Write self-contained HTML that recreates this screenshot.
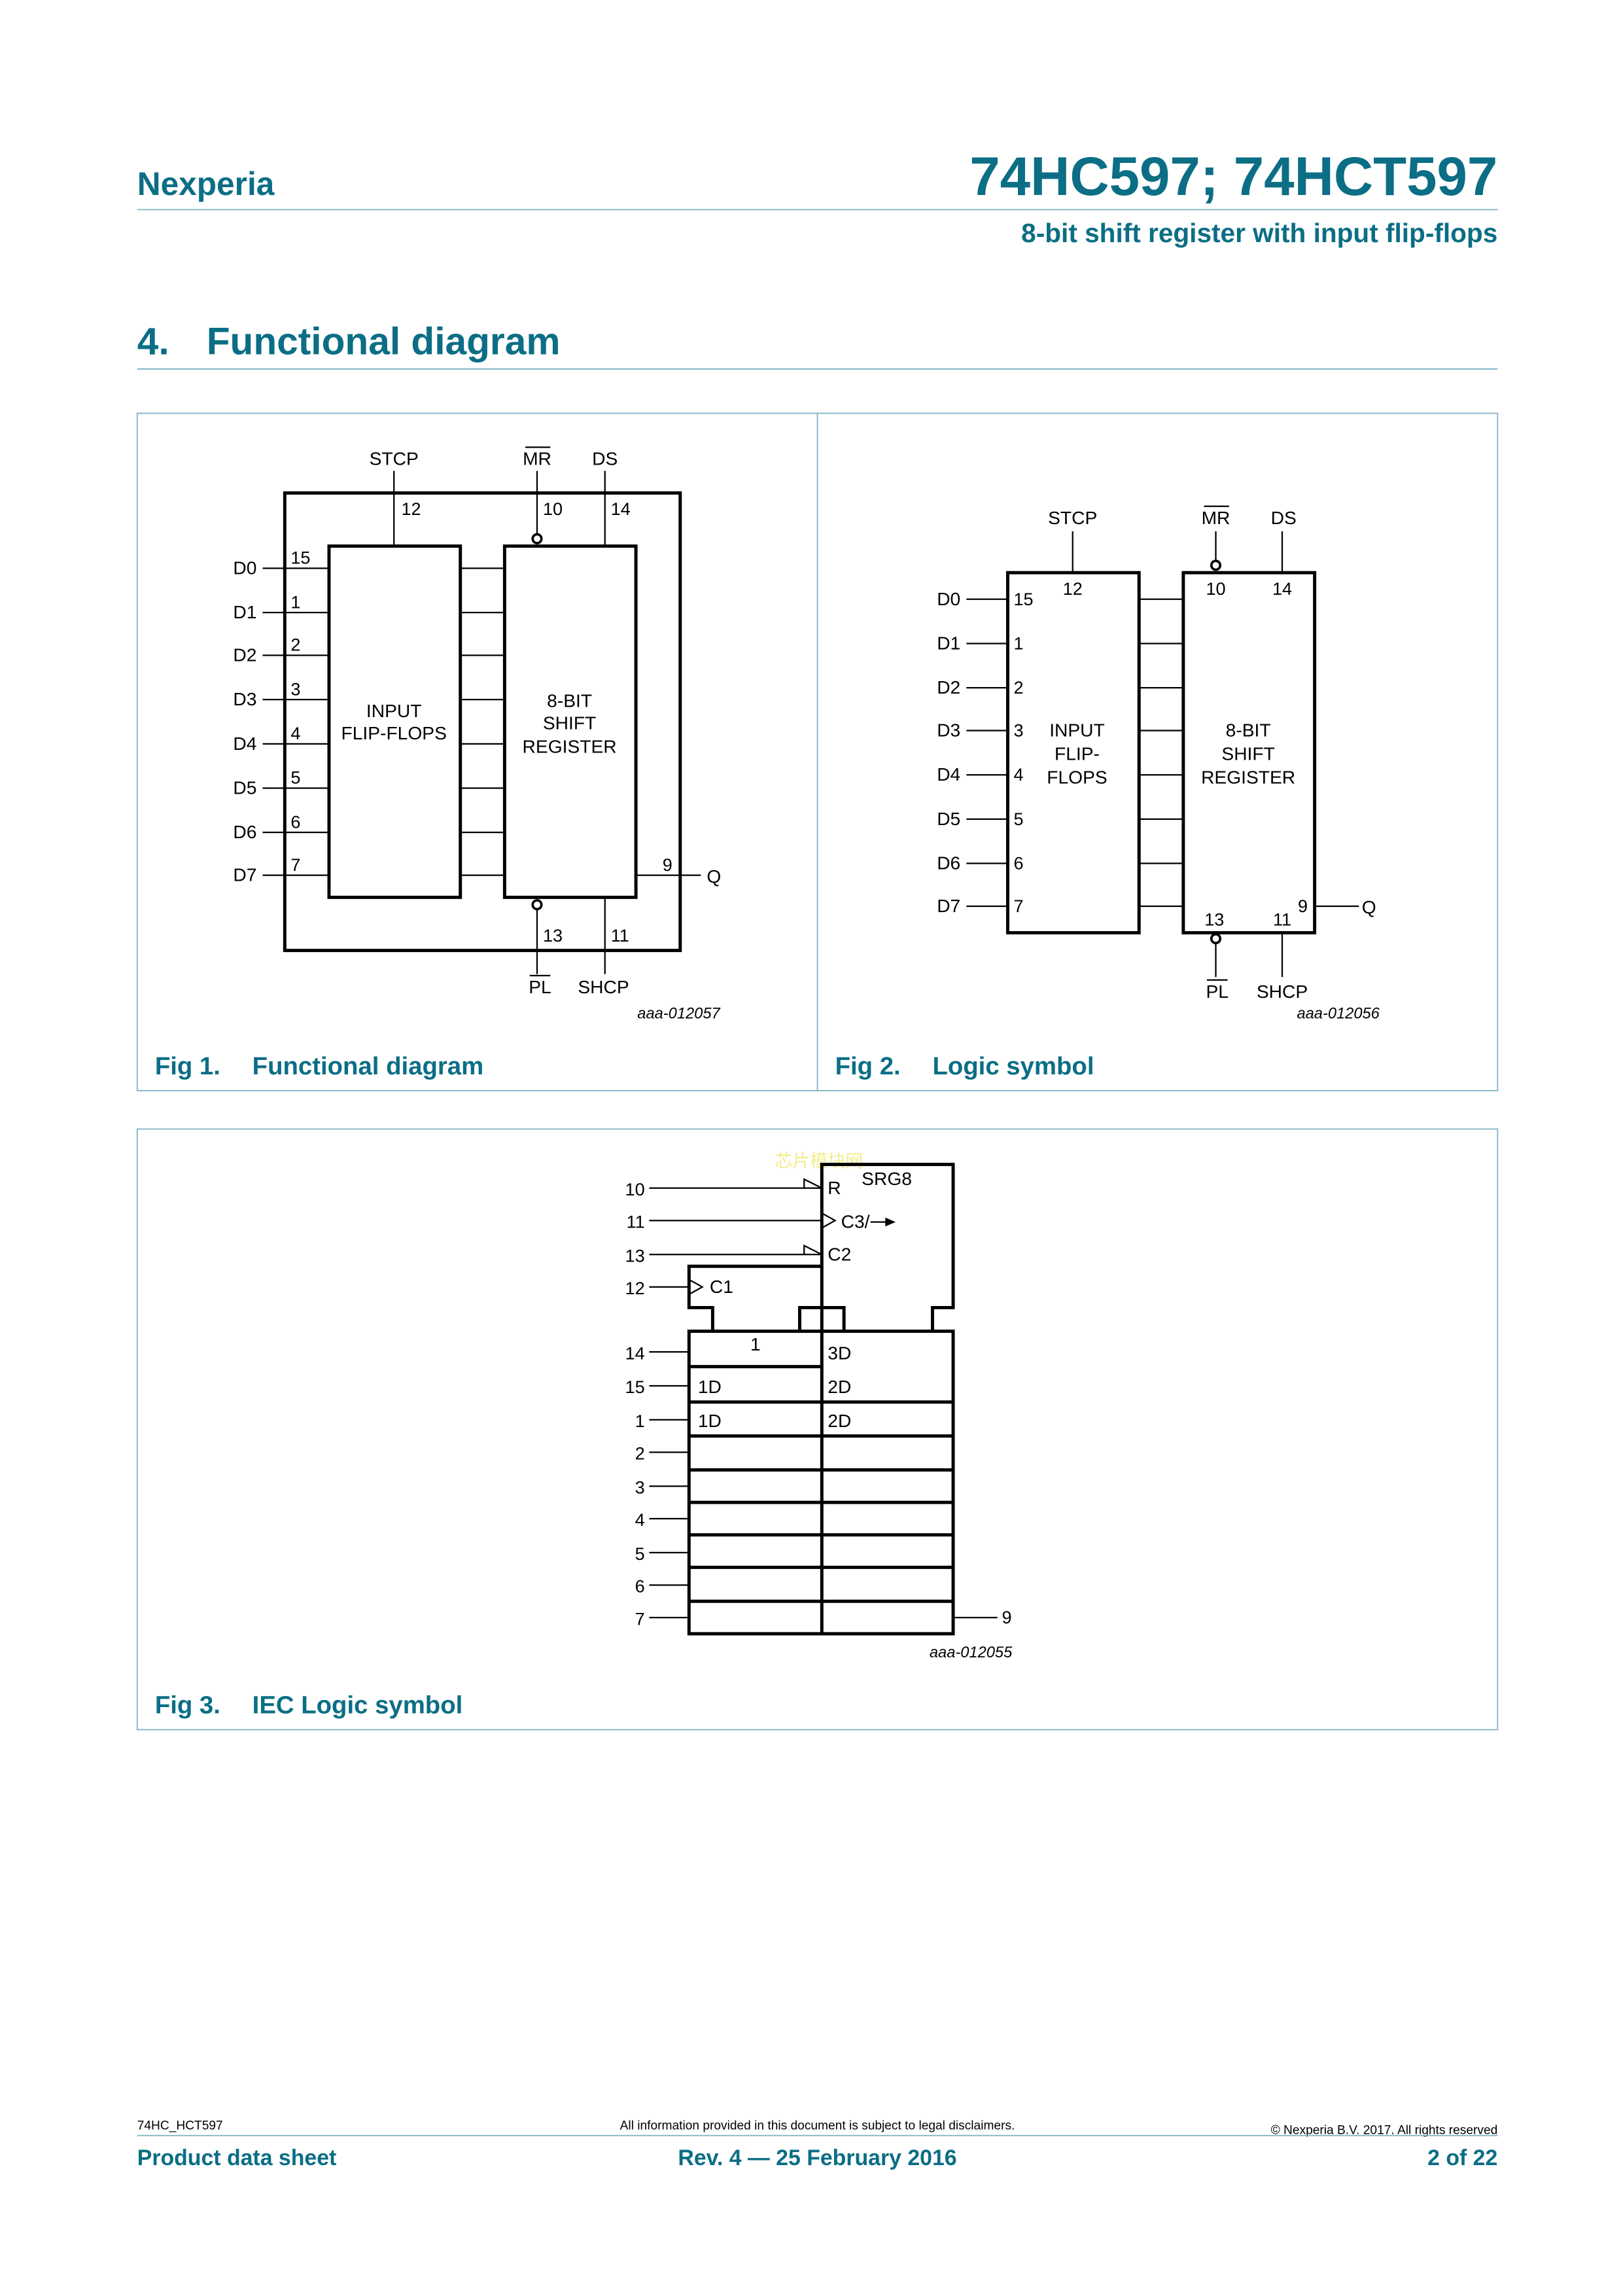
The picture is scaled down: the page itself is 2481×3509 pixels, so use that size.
<!DOCTYPE html>
<html><head><meta charset="utf-8"><style>
html,body{margin:0;padding:0;background:#fff}
svg{display:block}
text{font-family:"Liberation Sans",Arial,sans-serif}
.t{fill:#0b6e85;font-weight:bold}
.d{font-size:12.5px;fill:#000}
.n{font-size:12px;fill:#000}
.k{stroke:#000;stroke-width:2.2;fill:none}
.l{stroke:#000;stroke-width:1;fill:none}
.g{stroke:#7fb3c4;stroke-width:0.8;fill:none}
</style></head><body>
<svg width="2481" height="3509" viewBox="0 0 1100 1555.7" xmlns="http://www.w3.org/2000/svg">
<!-- header -->
<text x="93" y="132" class="t" font-size="22">Nexperia</text>
<text x="1015" y="132" class="t" font-size="37" text-anchor="end">74HC597; 74HCT597</text>
<line x1="93" y1="142" x2="1015" y2="142" class="g"/>
<text x="1015" y="164" class="t" font-size="18" text-anchor="end">8-bit shift register with input flip-flops</text>
<text x="93" y="240" class="t" font-size="26">4.</text>
<text x="140" y="240" class="t" font-size="26">Functional diagram</text>
<line x1="93" y1="250" x2="1015" y2="250" class="g"/>

<!-- figure boxes -->
<rect x="93" y="280" width="922" height="459" class="g"/>
<line x1="554" y1="280" x2="554" y2="739" class="g"/>
<rect x="93" y="765" width="922" height="407" class="g"/>
<text x="105" y="728" class="t" font-size="17">Fig 1.</text>
<text x="171" y="728" class="t" font-size="17">Functional diagram</text>
<text x="566" y="728" class="t" font-size="17">Fig 2.</text>
<text x="632" y="728" class="t" font-size="17">Logic symbol</text>
<text x="105" y="1161" class="t" font-size="17">Fig 3.</text>
<text x="171" y="1161" class="t" font-size="17">IEC Logic symbol</text>

<!-- FIG 1 -->
<rect x="193" y="334" width="268" height="310" class="k"/>
<rect x="223" y="370" width="89" height="238" class="k"/>
<rect x="342" y="370" width="89" height="238" class="k"/>
<g class="l">
<line x1="178" y1="385" x2="223" y2="385"/><line x1="178" y1="415" x2="223" y2="415"/>
<line x1="178" y1="444" x2="223" y2="444"/><line x1="178" y1="474" x2="223" y2="474"/>
<line x1="178" y1="504" x2="223" y2="504"/><line x1="178" y1="534" x2="223" y2="534"/>
<line x1="178" y1="564" x2="223" y2="564"/><line x1="178" y1="593" x2="223" y2="593"/>
<line x1="312" y1="385" x2="342" y2="385"/><line x1="312" y1="415" x2="342" y2="415"/>
<line x1="312" y1="444" x2="342" y2="444"/><line x1="312" y1="474" x2="342" y2="474"/>
<line x1="312" y1="504" x2="342" y2="504"/><line x1="312" y1="534" x2="342" y2="534"/>
<line x1="312" y1="564" x2="342" y2="564"/><line x1="312" y1="593" x2="342" y2="593"/>
<line x1="267" y1="319" x2="267" y2="370"/>
<line x1="364" y1="319" x2="364" y2="362"/>
<line x1="410" y1="319" x2="410" y2="370"/>
<line x1="364" y1="616" x2="364" y2="660"/>
<line x1="410" y1="608" x2="410" y2="660"/>
<line x1="431" y1="593" x2="475" y2="593"/>
</g>
<circle cx="364" cy="365" r="3" fill="#fff" stroke="#000" stroke-width="1.6"/>
<circle cx="364" cy="613" r="3" fill="#fff" stroke="#000" stroke-width="1.6"/>
<g class="d">
<text x="158" y="389">D0</text><text x="158" y="419">D1</text><text x="158" y="448">D2</text><text x="158" y="478">D3</text>
<text x="158" y="508">D4</text><text x="158" y="538">D5</text><text x="158" y="568">D6</text><text x="158" y="597">D7</text>
<text x="267" y="315" text-anchor="middle">STCP</text>
<text x="364" y="315" text-anchor="middle">MR</text>
<text x="410" y="315" text-anchor="middle">DS</text>
<text x="366" y="673" text-anchor="middle">PL</text>
<text x="409" y="673" text-anchor="middle">SHCP</text>
<text x="479" y="598">Q</text>
<text x="267" y="486" text-anchor="middle">INPUT</text>
<text x="267" y="501" text-anchor="middle">FLIP-FLOPS</text>
<text x="386" y="479" text-anchor="middle">8-BIT</text>
<text x="386" y="494" text-anchor="middle">SHIFT</text>
<text x="386" y="510" text-anchor="middle">REGISTER</text>
</g>
<line x1="356" y1="303" x2="373" y2="303" class="l"/>
<line x1="359" y1="661" x2="373" y2="661" class="l"/>
<g class="n">
<text x="197" y="382">15</text><text x="197" y="412">1</text><text x="197" y="441">2</text><text x="197" y="471">3</text>
<text x="197" y="501">4</text><text x="197" y="531">5</text><text x="197" y="561">6</text><text x="197" y="590">7</text>
<text x="272" y="349">12</text><text x="368" y="349">10</text><text x="414" y="349">14</text>
<text x="368" y="638">13</text><text x="414" y="638">11</text><text x="449" y="590">9</text>
</g>
<text x="488" y="690" font-size="10.5" font-style="italic" text-anchor="end">aaa-012057</text>

<!-- FIG 2 -->
<rect x="683" y="388" width="89" height="244" class="k"/>
<rect x="802" y="388" width="89" height="244" class="k"/>
<g class="l">
<line x1="655" y1="406" x2="683" y2="406"/><line x1="655" y1="436" x2="683" y2="436"/>
<line x1="655" y1="466" x2="683" y2="466"/><line x1="655" y1="495" x2="683" y2="495"/>
<line x1="655" y1="525" x2="683" y2="525"/><line x1="655" y1="555" x2="683" y2="555"/>
<line x1="655" y1="585" x2="683" y2="585"/><line x1="655" y1="614" x2="683" y2="614"/>
<line x1="772" y1="406" x2="802" y2="406"/><line x1="772" y1="436" x2="802" y2="436"/>
<line x1="772" y1="466" x2="802" y2="466"/><line x1="772" y1="495" x2="802" y2="495"/>
<line x1="772" y1="525" x2="802" y2="525"/><line x1="772" y1="555" x2="802" y2="555"/>
<line x1="772" y1="585" x2="802" y2="585"/><line x1="772" y1="614" x2="802" y2="614"/>
<line x1="727" y1="360" x2="727" y2="388"/>
<line x1="824" y1="360" x2="824" y2="380"/>
<line x1="869" y1="360" x2="869" y2="388"/>
<line x1="824" y1="639" x2="824" y2="662"/>
<line x1="869" y1="632" x2="869" y2="662"/>
<line x1="891" y1="614" x2="921" y2="614"/>
</g>
<circle cx="824" cy="383" r="3" fill="#fff" stroke="#000" stroke-width="1.6"/>
<circle cx="824" cy="636" r="3" fill="#fff" stroke="#000" stroke-width="1.6"/>
<g class="d">
<text x="635" y="410">D0</text><text x="635" y="440">D1</text><text x="635" y="470">D2</text><text x="635" y="499">D3</text>
<text x="635" y="529">D4</text><text x="635" y="559">D5</text><text x="635" y="589">D6</text><text x="635" y="618">D7</text>
<text x="727" y="355" text-anchor="middle">STCP</text>
<text x="824" y="355" text-anchor="middle">MR</text>
<text x="870" y="355" text-anchor="middle">DS</text>
<text x="825" y="676" text-anchor="middle">PL</text>
<text x="869" y="676" text-anchor="middle">SHCP</text>
<text x="923" y="619">Q</text>
<text x="730" y="499" text-anchor="middle">INPUT</text>
<text x="730" y="515" text-anchor="middle">FLIP-</text>
<text x="730" y="531" text-anchor="middle">FLOPS</text>
<text x="846" y="499" text-anchor="middle">8-BIT</text>
<text x="846" y="515" text-anchor="middle">SHIFT</text>
<text x="846" y="531" text-anchor="middle">REGISTER</text>
</g>
<line x1="816" y1="343" x2="833" y2="343" class="l"/>
<line x1="818" y1="664" x2="832" y2="664" class="l"/>
<g class="n">
<text x="687" y="410">15</text><text x="687" y="440">1</text><text x="687" y="470">2</text><text x="687" y="499">3</text>
<text x="687" y="529">4</text><text x="687" y="559">5</text><text x="687" y="589">6</text><text x="687" y="618">7</text>
<text x="727" y="403" text-anchor="middle">12</text><text x="824" y="403" text-anchor="middle">10</text><text x="869" y="403" text-anchor="middle">14</text>
<text x="823" y="627" text-anchor="middle">13</text><text x="869" y="627" text-anchor="middle">11</text><text x="883" y="618" text-anchor="middle">9</text>
</g>
<text x="935" y="690" font-size="10.5" font-style="italic" text-anchor="end">aaa-012056</text>

<!-- FIG 3 -->
<text x="555" y="791" font-size="12" fill="#f3ec8a" text-anchor="middle" font-family="'Noto Sans CJK SC',sans-serif">芯片模块网</text>
<path class="k" d="M557 902 V789 H646 V886 H632 V902"/>
<path class="k" d="M557 858 H467 V886 H483 V902"/>
<path class="k" d="M542 902 V886 H572 V902"/>
<path class="k" d="M467 902 H646 V1107 H467 Z M557 902 V1107"/>
<path class="k" d="M467 926 H557 M467 950 H646 M467 973 H646 M467 996 H646 M467 1018 H646 M467 1040 H646 M467 1062 H646 M467 1085 H646"/>
<g class="l">
<line x1="440" y1="805" x2="557" y2="805"/>
<line x1="440" y1="827" x2="557" y2="827"/>
<line x1="440" y1="850" x2="557" y2="850"/>
<line x1="440" y1="872" x2="467" y2="872"/>
<line x1="440" y1="916" x2="467" y2="916"/>
<line x1="440" y1="939" x2="467" y2="939"/>
<line x1="440" y1="962" x2="467" y2="962"/>
<line x1="440" y1="984" x2="467" y2="984"/>
<line x1="440" y1="1007" x2="467" y2="1007"/>
<line x1="440" y1="1029" x2="467" y2="1029"/>
<line x1="440" y1="1052" x2="467" y2="1052"/>
<line x1="440" y1="1074" x2="467" y2="1074"/>
<line x1="440" y1="1096" x2="467" y2="1096"/>
<line x1="646" y1="1096" x2="676" y2="1096"/>
<polyline points="545,805 545,799 557,805"/>
<polyline points="545,850 545,844 557,850"/>
<polyline points="557,822 566,827 557,832"/>
<polyline points="467,867 476,872 467,877"/>
<line x1="590" y1="828" x2="601" y2="828"/>
</g>
<polygon points="600,825 607,828 600,831" fill="#000"/>
<g class="d">
<text x="561" y="809">R</text>
<text x="584" y="803">SRG8</text>
<text x="570" y="832">C3/</text>
<text x="561" y="854">C2</text>
<text x="481" y="876">C1</text>
<text x="512" y="915" text-anchor="middle">1</text>
<text x="561" y="921">3D</text><text x="561" y="944">2D</text><text x="561" y="967">2D</text>
<text x="473" y="944">1D</text><text x="473" y="967">1D</text>
</g>
<g class="n" text-anchor="end">
<text x="437" y="810">10</text><text x="437" y="832">11</text><text x="437" y="855">13</text><text x="437" y="877">12</text>
<text x="437" y="921">14</text><text x="437" y="944">15</text><text x="437" y="967">1</text><text x="437" y="989">2</text>
<text x="437" y="1012">3</text><text x="437" y="1034">4</text><text x="437" y="1057">5</text><text x="437" y="1079">6</text><text x="437" y="1101">7</text>
</g>
<text x="679" y="1100" class="n">9</text>
<text x="686" y="1123" font-size="10.5" font-style="italic" text-anchor="end">aaa-012055</text>

<!-- footer -->
<text x="93" y="1443" font-size="8.5">74HC_HCT597</text>
<text x="554" y="1443" font-size="8.5" text-anchor="middle">All information provided in this document is subject to legal disclaimers.</text>
<text x="1015" y="1446" font-size="8.5" text-anchor="end">© Nexperia B.V. 2017. All rights reserved</text>
<line x1="93" y1="1447" x2="1015" y2="1447" class="g"/>
<text x="93" y="1467" class="t" font-size="15">Product data sheet</text>
<text x="554" y="1467" class="t" font-size="15" text-anchor="middle">Rev. 4 — 25 February 2016</text>
<text x="1015" y="1467" class="t" font-size="15" text-anchor="end">2 of 22</text>
</svg>
</body></html>
